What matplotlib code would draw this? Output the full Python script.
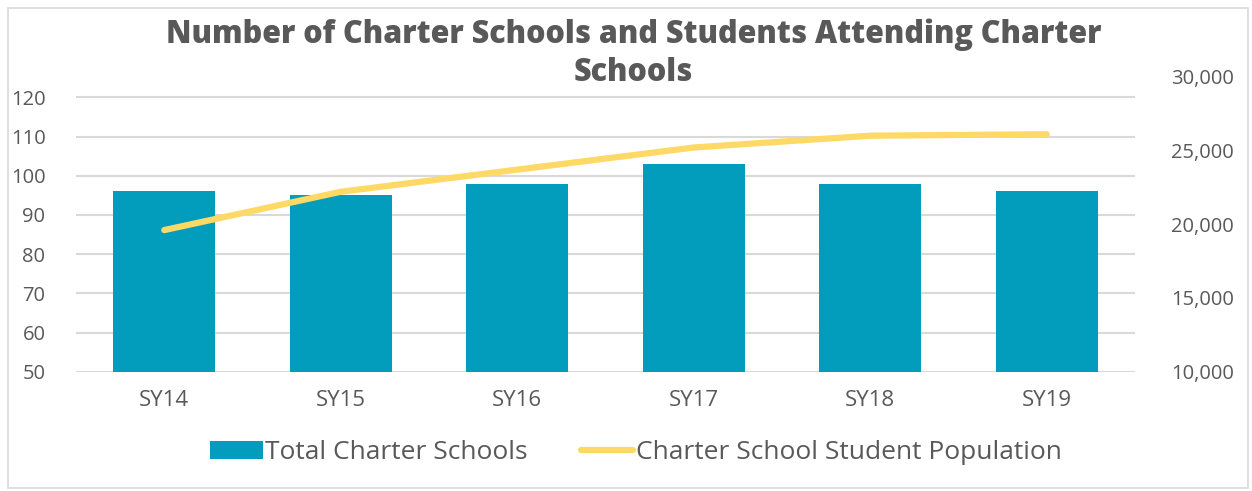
import matplotlib.pyplot as plt
from matplotlib.patches import Rectangle
from matplotlib.ticker import FuncFormatter

# Data
years = ['SY14', 'SY15', 'SY16', 'SY17', 'SY18', 'SY19']
schools = [96, 95, 98, 103, 98, 96]
students = [19600, 22200, 23700, 25200, 26000, 26100]

bar_color = '#029CBD'
line_color = '#FFD966'
text_color = '#595959'
plt.rcParams['font.family'] = ['Open Sans', 'DejaVu Sans']

fig = plt.figure(figsize=(12.52, 4.91), dpi=100)
ax = fig.add_axes([76 / 1252, 1 - 371.7 / 491, (1135 - 76) / 1252, (371.7 - 76.7) / 491])
ax2 = ax.twinx()

x = range(len(years))
ax.bar(x, schools, width=0.58, color=bar_color, label='Total Charter Schools', zorder=2)
ax2.plot(x, students, color=line_color, lw=4.5, solid_capstyle='round',
         label='Charter School Student Population', zorder=3)

ax.set_xlim(-0.5, 5.5)
ax.set_ylim(50, 125.26)
ax.set_yticks(range(50, 121, 10))
ax2.set_ylim(10000, 30000)
ax2.set_yticks(range(10000, 30001, 5000))
ax2.yaxis.set_major_formatter(FuncFormatter(lambda v, p: f'{int(v):,}'))
ax.set_xticks(list(x))
ax.set_xticklabels(years)

ax.grid(axis='y', color='#D9D9D9', lw=1.5, zorder=0)
ax.set_axisbelow(True)
for a in (ax, ax2):
    for s in a.spines.values():
        s.set_visible(False)
    a.tick_params(length=0, labelsize=14.5, labelcolor=text_color)
ax.tick_params(axis='y', pad=22)
ax.tick_params(axis='x', pad=13, labelsize=16)
ax2.tick_params(axis='y', pad=26)

fig.text(0.506, 0.93, 'Number of Charter Schools and Students Attending Charter',
         ha='center', va='center', fontsize=22, fontweight='heavy', color=text_color)
fig.text(0.506, 0.851, 'Schools', ha='center', va='center', fontsize=22,
         fontweight='heavy', color=text_color)

h1, l1 = ax.get_legend_handles_labels()
h2, l2 = ax2.get_legend_handles_labels()
leg = fig.legend(h1 + h2, l1 + l2, loc='center', bbox_to_anchor=(0.508, 0.078), ncol=2,
                 frameon=False, fontsize=19, handlelength=2.0, handletextpad=0.1,
                 columnspacing=2.0)
for t in leg.get_texts():
    t.set_color(text_color)

fig.patches.append(Rectangle((8 / 1252, 3 / 491), 1240 / 1252, 480 / 491,
                             transform=fig.transFigure, fill=False,
                             edgecolor='#D9D9D9', lw=1.2))

fig.savefig('out.png', dpi=100)
